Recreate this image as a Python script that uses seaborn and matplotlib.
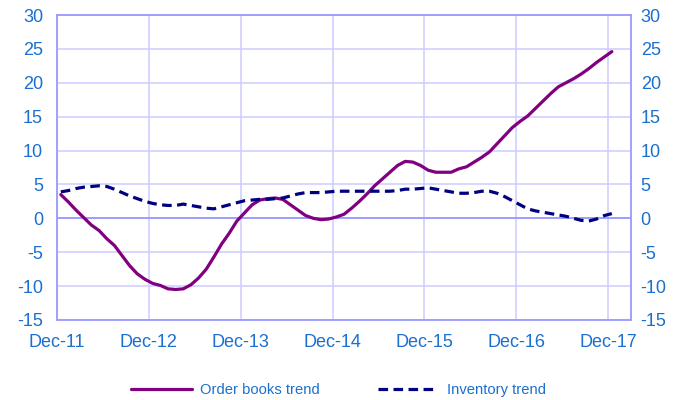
import numpy as np
import pandas as pd
import matplotlib
matplotlib.use("Agg")
import matplotlib.pyplot as plt
import seaborn as sns
from matplotlib.lines import Line2D

sns.set_style("white")
plt.rcParams['font.family'] = ['Liberation Sans', 'DejaVu Sans']
plt.rcParams['axes.unicode_minus'] = False

tick_labels = ["Dec-11", "Dec-12", "Dec-13", "Dec-14", "Dec-15", "Dec-16", "Dec-17"]

order_books = [3.5, 2.4, 1.2, 0.1, -1.0, -1.8, -3.0, -4.0, -5.5, -7.0, -8.2, -9.0,
               -9.6, -9.9, -10.4, -10.5, -10.4, -9.8, -8.8, -7.5, -5.7, -3.8, -2.2, -0.4,
               0.8, 2.0, 2.7, 2.9, 3.0, 2.8, 2.0, 1.2, 0.4, 0.0, -0.2, -0.1,
               0.2, 0.6, 1.5, 2.5, 3.6, 4.8, 5.8, 6.8, 7.8, 8.4, 8.3, 7.8,
               7.1, 6.8, 6.8, 6.8, 7.3, 7.6, 8.3, 9.0, 9.8, 11.0, 12.2, 13.4,
               14.3, 15.1, 16.2, 17.3, 18.4, 19.4, 20.0, 20.6, 21.3, 22.1, 23.0, 23.8,
               24.6]

inventory = [3.9, 4.1, 4.4, 4.6, 4.7, 4.8, 4.7, 4.3, 3.8, 3.3, 2.9, 2.5,
             2.2, 2.0, 1.9, 1.9, 2.1, 1.9, 1.7, 1.5, 1.4, 1.7, 2.0, 2.3,
             2.6, 2.7, 2.8, 2.8, 2.9, 3.0, 3.3, 3.6, 3.8, 3.8, 3.8, 3.9,
             4.0, 4.0, 4.0, 4.0, 4.0, 4.0, 4.0, 4.0, 4.1, 4.3, 4.3, 4.4,
             4.5, 4.3, 4.1, 3.9, 3.7, 3.7, 3.8, 4.0, 4.0, 3.7, 3.2, 2.6,
             2.0, 1.4, 1.1, 0.9, 0.7, 0.5, 0.3, 0.0, -0.3, -0.4, -0.1, 0.4,
             0.7]

months = np.arange(len(order_books)) + 0.5
df = pd.DataFrame({"month": np.concatenate([months, months]),
                   "value": order_books + inventory,
                   "series": ["Order books trend"] * len(order_books) + ["Inventory trend"] * len(inventory)})

txt = "#1a6fd0"
grid_c = "#ccccff"
spine_c = "#9999ff"
purple = "#800080"
navy = "#000080"

fig = plt.figure(figsize=(6.77, 4.0), dpi=100)
ax = fig.add_axes([57/677, 80/400, (631-57)/677, (320-15)/400])

sns.lineplot(data=df[df.series == "Order books trend"], x="month", y="value", ax=ax,
             color=purple, linewidth=2.3, legend=False)
sns.lineplot(data=df[df.series == "Inventory trend"], x="month", y="value", ax=ax,
             color=navy, linewidth=2.3, legend=False)
ax.lines[1].set_dashes((3.0, 1.7))

ax.set_xlim(0, 75)
ax.set_ylim(-15, 30)
ax.set_yticks(np.arange(-15, 31, 5))
ax.set_xticks(np.arange(0, 73, 12))
ax.set_xticklabels(tick_labels)
ax.set_xlabel("")
ax.set_ylabel("")
ax.grid(True, color=grid_c, linewidth=1.1)
ax.set_axisbelow(True)
ax.axhline(0, color=spine_c, linewidth=1.3, zorder=1)
for s in ax.spines.values():
    s.set_color(spine_c)
    s.set_linewidth(1.3)
ax.tick_params(axis="both", length=0, labelsize=13, labelcolor=txt)
ax.tick_params(axis="x", pad=10)
ax.tick_params(axis="y", pad=10)

ax2 = ax.twinx()
ax2.set_ylim(-15, 30)
ax2.set_yticks(np.arange(-15, 31, 5))
ax2.tick_params(axis="y", length=0, labelsize=13, labelcolor=txt, pad=7)
for s in ax2.spines.values():
    s.set_visible(False)

handles = [Line2D([], [], color=purple, linewidth=2.3),
           Line2D([], [], color=navy, linewidth=2.3, dashes=(3.0, 1.7))]
leg = fig.legend(handles, ["Order books trend", "Inventory trend"], loc="center",
                 bbox_to_anchor=(0.5, 1 - 390/400), ncol=2, frameon=False,
                 fontsize=10.6, handlelength=4.1, columnspacing=3.9, handletextpad=0.6)
for t in leg.get_texts():
    t.set_color(txt)

fig.savefig("out.png", dpi=100)
